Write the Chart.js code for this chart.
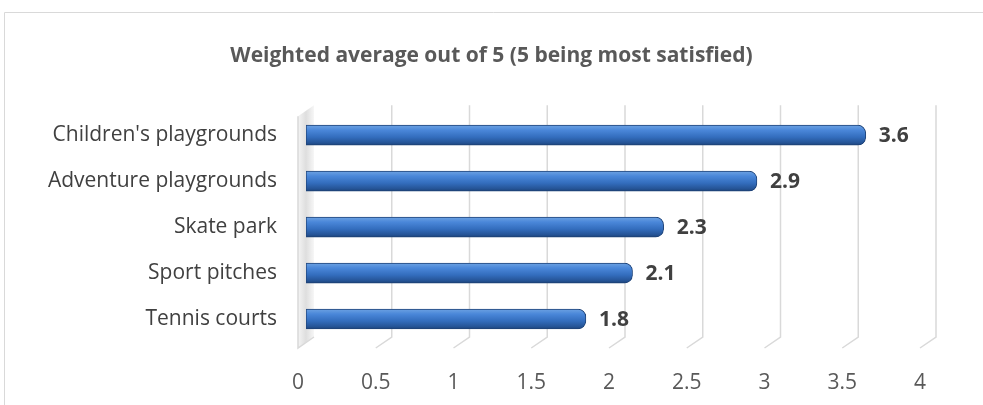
<!DOCTYPE html>
<html>
<head>
<meta charset="utf-8">
<script src="https://cdn.jsdelivr.net/npm/chart.js@4"></script>
<style>
  html, body { margin: 0; padding: 0; background: #fff; }
  #wrap { position: relative; width: 983px; height: 405px; }
</style>
</head>
<body>
<div id="wrap"><canvas id="chart" width="983" height="405"></canvas></div>
<script>
const categories = [
  "Children's playgrounds",
  'Adventure playgrounds',
  'Skate park',
  'Sport pitches',
  'Tennis courts'
];
const scores = [3.6, 2.9, 2.3, 2.1, 1.8];
const tickValues = [0, 0.5, 1, 1.5, 2, 2.5, 3, 3.5, 4];
const titleText = 'Weighted average out of 5 (5 being most satisfied)';

const FONT = '"Open Sans", "Liberation Sans", sans-serif';
const DEPTH = 8; // half of the 3d depth offset

// frame, back wall and the bent 3d gridlines
const backdrop = {
  id: 'backdrop',
  beforeDraw(chart) {
    const { ctx } = chart;
    ctx.save();
    ctx.strokeStyle = '#d9d9d9';
    ctx.lineWidth = 1;
    ctx.beginPath();
    ctx.moveTo(4.5, 405);
    ctx.lineTo(4.5, 12.5);
    ctx.lineTo(983, 12.5);
    ctx.stroke();
    ctx.restore();
  },
  beforeDatasetsDraw(chart) {
    const { ctx, chartArea, scales } = chart;
    const x = scales.x;
    const top = chartArea.top - 7;
    const bottom = chartArea.bottom + 6;
    ctx.save();

    // side wall at zero
    const x0 = x.getPixelForValue(0);
    const g = ctx.createLinearGradient(x0 - DEPTH, 0, x0 + DEPTH, 0);
    g.addColorStop(0, '#f4f4f4');
    g.addColorStop(0.5, '#dedede');
    g.addColorStop(1, '#f7f7f7');
    ctx.fillStyle = g;
    ctx.beginPath();
    ctx.moveTo(x0 - DEPTH, top + 11);
    ctx.lineTo(x0 + DEPTH, top);
    ctx.lineTo(x0 + DEPTH, bottom - 11);
    ctx.lineTo(x0 - DEPTH, bottom);
    ctx.closePath();
    ctx.fill();

    ctx.strokeStyle = '#d9d9d9';
    ctx.lineWidth = 1.5;
    tickValues.forEach(v => {
      const px = x.getPixelForValue(v);
      ctx.beginPath();
      if (v === 0) {
        ctx.moveTo(px - DEPTH, top + 11);
        ctx.lineTo(px - DEPTH, bottom);
        ctx.lineTo(px + DEPTH, bottom - 11);
      } else {
        ctx.moveTo(px + DEPTH, top);
        ctx.lineTo(px + DEPTH, bottom - 11);
        ctx.lineTo(px - DEPTH, bottom);
      }
      ctx.stroke();
    });
    ctx.restore();
  },
  afterDatasetsDraw(chart) {
    const { ctx } = chart;
    const meta = chart.getDatasetMeta(0);
    ctx.save();
    ctx.font = 'bold 21px ' + FONT;
    ctx.fillStyle = '#404040';
    ctx.textAlign = 'left';
    ctx.textBaseline = 'middle';
    meta.data.forEach((bar, i) => {
      ctx.fillText(scores[i].toFixed(1), bar.x + 13, bar.y + 1);
    });
    ctx.restore();
  }
};

function barFill(context) {
  const chart = context.chart;
  if (!chart.chartArea || !chart.scales.y) return '#3a74c4';
  const y = chart.scales.y.getPixelForValue(context.dataIndex);
  const g = chart.ctx.createLinearGradient(0, y - 10, 0, y + 10);
  g.addColorStop(0, '#6da2e2');
  g.addColorStop(0.25, '#4a87d9');
  g.addColorStop(0.6, '#336dbd');
  g.addColorStop(0.9, '#245293');
  g.addColorStop(1, '#1b3f72');
  return g;
}

new Chart(document.getElementById('chart'), {
  type: 'bar',
  data: {
    labels: categories,
    datasets: [{
      data: scores,
      backgroundColor: barFill,
      borderColor: '#1f447a',
      borderWidth: 1,
      borderSkipped: false,
      borderRadius: { topLeft: 0, bottomLeft: 0, topRight: 8, bottomRight: 8 },
      barThickness: 20
    }]
  },
  plugins: [backdrop],
  options: {
    indexAxis: 'y',
    responsive: false,
    animation: false,
    layout: { padding: 0 },
    plugins: {
      legend: { display: false },
      tooltip: { enabled: false },
      title: {
        display: true,
        text: titleText,
        color: '#595959',
        font: { family: FONT, size: 21, weight: 'bold', lineHeight: 1.2 },
        padding: { top: 43, bottom: 44 }
      }
    },
    scales: {
      x: {
        min: 0,
        max: 4,
        afterBuildTicks(scale) {
          scale.ticks = tickValues.map(v => ({ value: v }));
        },
        afterFit(scale) { scale.height = 63; },
        grid: { display: false, drawTicks: false },
        border: { display: false },
        ticks: {
          color: '#595959',
          font: { family: FONT, size: 21 },
          padding: 28,
          labelOffset: -8,
          maxRotation: 0,
          callback: v => String(v)
        }
      },
      y: {
        afterFit(scale) { scale.width = 306; },
        grid: { display: false, drawTicks: false },
        border: { display: false },
        ticks: {
          color: '#404040',
          font: { family: FONT, size: 21 },
          padding: 29
        }
      },
      // empty right-hand gutter so the title stays centred on the canvas
      gutter: {
        type: 'category',
        position: 'right',
        afterFit(scale) { scale.width = 55; },
        grid: { display: false, drawTicks: false },
        border: { display: false },
        ticks: { display: false }
      }
    }
  }
});
</script>
</body>
</html>
